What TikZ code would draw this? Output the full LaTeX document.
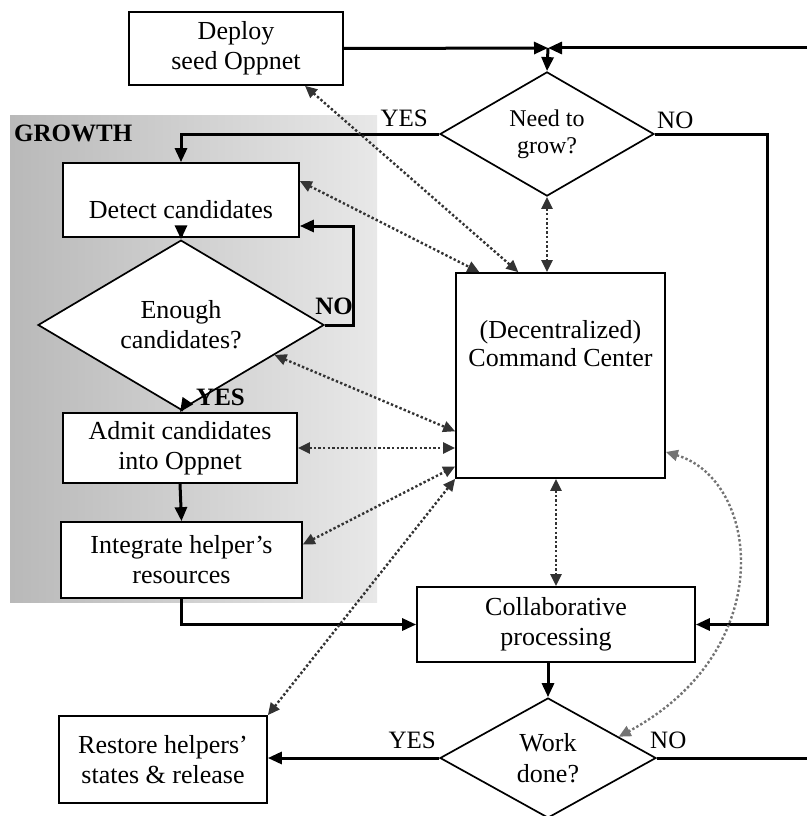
\documentclass[tikz,border=0pt]{standalone}
\usepackage{fontspec}
\setmainfont{Liberation Serif}
\usetikzlibrary{arrows.meta,shapes.geometric,calc}
\begin{document}
\begin{tikzpicture}[x=1pt,y=-1pt,
  box/.style={draw,line width=1.7pt,fill=white,inner sep=0pt,align=center,font=\fontsize{26}{30}\selectfont},
  dia/.style={draw,diamond,line width=1.7pt,fill=white,inner sep=0pt,align=center,font=\fontsize{26}{30}\selectfont},
  flow/.style={line width=3pt,-{Triangle[length=14pt,width=12pt]}},
  plainline/.style={line width=3pt},
  link/.style={line width=2.4pt,dash pattern=on 2.4pt off 2.2pt,black!80,{Triangle[length=12pt,width=11pt]}-{Triangle[length=12pt,width=11pt]}},
  lbl/.style={font=\fontsize{25}{28}\selectfont,inner sep=0pt},
  blbl/.style={font=\bfseries\fontsize{25}{28}\selectfont,inner sep=0pt}
]
\useasboundingbox (0,0) rectangle (807,816);
\fill[left color=gray!55,right color=gray!18] (10,115) rectangle (377,602);
\node[blbl,anchor=west,font=\bfseries\fontsize{25}{28}\selectfont] (growth) at (14,133) {GROWTH};

\node[box,minimum width=214pt,minimum height=73pt] (deploy) at (236,48.5) {Deploy\\seed Oppnet};
\node[dia,minimum width=214pt,minimum height=98pt,font=\fontsize{24}{27}\selectfont] (grow) at (547,134) {Need to\\grow?};
\node[box,minimum width=236pt,minimum height=74pt] (detect) at (181,200) {\raisebox{-10pt}[\height][\depth]{Detect candidates}};
\node[dia,minimum width=286pt,minimum height=124pt] (enough) at (181,325) {Enough\\candidates?};
\node[box,minimum width=234pt,minimum height=70pt] (admit) at (180,448) {Admit candidates\\into Oppnet};
\node[box,minimum width=241pt,minimum height=76pt] (integ) at (181.5,560) {Integrate helper’s\\resources};
\node[box,minimum width=209pt,minimum height=205pt] (cc) at (560.5,375.5) {};
\node[align=center,inner sep=0pt,font=\fontsize{26}{28}\selectfont] (cclabel) at (560.5,344) {(Decentralized)\\Command Center};
\node[box,minimum width=278pt,minimum height=75pt] (collab) at (556,624.5) {Collaborative\\processing};
\node[dia,minimum width=216pt,minimum height=120pt,font=\fontsize{26}{31}\selectfont] (work) at (548,758) {Work\\done?};
\node[box,minimum width=208pt,minimum height=87pt] (restore) at (163,759.5) {Restore helpers’\\states \& release};

\coordinate (jn) at (548,48);
\coordinate (edgeT) at (807,48);
\coordinate (edgeB) at (807,758);
\coordinate (yesT) at (181,134);
\coordinate (noR) at (767,134);
\coordinate (noR2) at (767,624.5);
\coordinate (loopA) at (353,325);
\coordinate (loopB) at (353,226);
\coordinate (intB) at (181.5,624.5);

\draw[flow] (deploy.east) -- (jn);
\draw[flow] (edgeT) -- (jn);
\draw[flow] (jn) -- (grow.north);
\draw[flow] (grow.west) -- (yesT) -- (detect.north);
\draw[flow] (grow.east) -- (noR) -- (noR2) -- (collab.east);
\draw[flow] (detect.south) -- (enough.north);
\draw[flow] (enough.east) -- (loopA) -- (loopB) -- (detect.east |- loopB);
\draw[flow] (enough.south) -- (admit.north);
\draw[flow] (admit.south) -- (integ.north);
\draw[flow] (integ.south) -- (intB) -- (collab.west);
\draw[flow] (collab.south -| work.north) -- (work.north);
\draw[flow] (work.west) -- (restore.east |- work.west);
\draw[plainline] (work.east) -- (edgeB);

\node[lbl,anchor=east] (yes1) at (428,118) {YES};
\node[lbl,anchor=west] (no1) at (657,120) {NO};
\node[blbl,anchor=east] (no2) at (353,306) {NO};
\node[blbl,anchor=west] (yes2) at (196,397) {YES};
\node[lbl,anchor=east] (yes3) at (436,740) {YES};
\node[lbl,anchor=west] (no3) at (650,740) {NO};

\draw[link] ($(deploy.south west)!0.82!(deploy.south east)$) -- ($(cc.north west)!0.3!(cc.north east)$);
\draw[link] ($(detect.north east)!0.25!(detect.south east)$) -- ($(cc.north west)!0.115!(cc.north east)$);
\draw[link] (grow.south) -- (grow.south |- cc.north);
\draw[link] ($(enough.east)!0.35!(enough.south)$) -- ($(cc.north west)!0.77!(cc.south west)$);
\draw[link] (admit.east) -- (admit.east -| cc.west);
\draw[link] ($(integ.north east)!0.3!(integ.south east)$) -- ($(cc.north west)!0.94!(cc.south west)$);
\draw[link] (restore.north east) -- (cc.south west);
\draw[link] (collab.north |- cc.south) -- (collab.north);
\draw[link,black!55] ($(cc.north east)!0.87!(cc.south east)$) .. controls (760,480) and (780,650) .. ($(work.north)!0.65!(work.east)$);
\end{tikzpicture}
\end{document}
